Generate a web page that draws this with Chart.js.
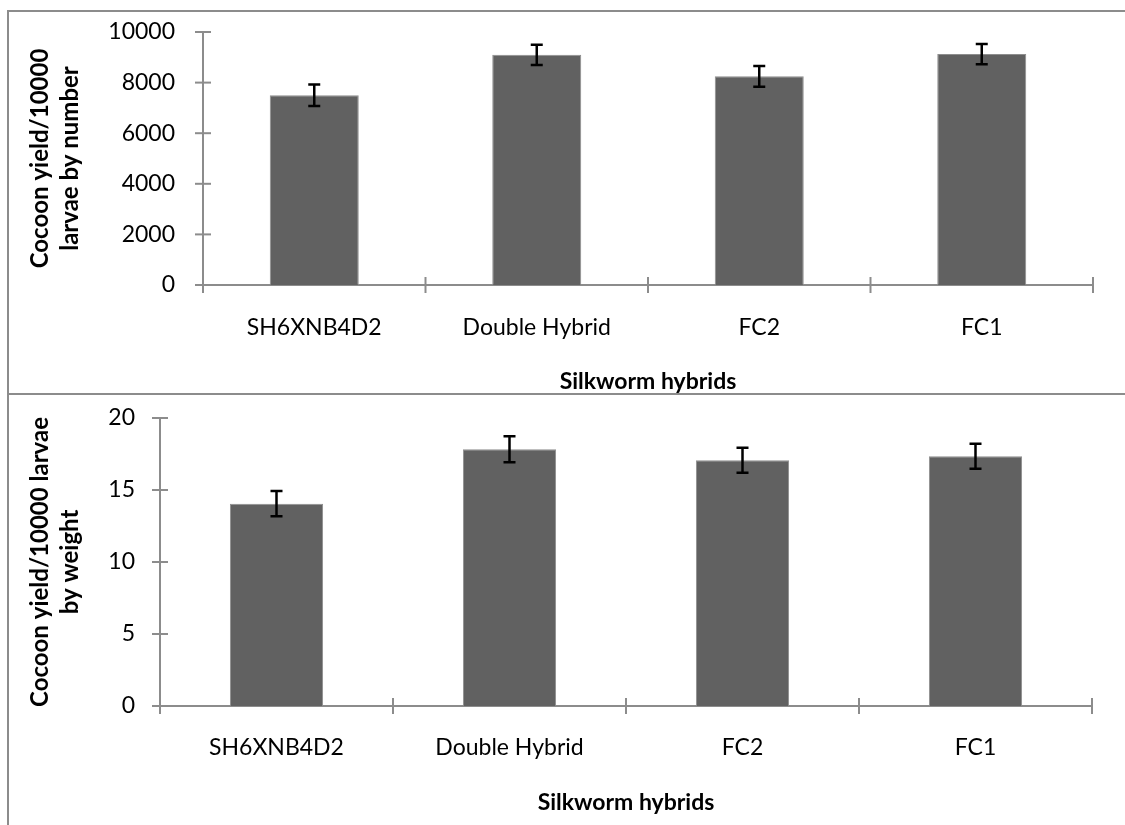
<!DOCTYPE html>
<html>
<head>
<meta charset="utf-8">
<script src="https://cdn.jsdelivr.net/npm/chart.js@4.4.1/dist/chart.umd.min.js"></script>
<style>
    body { margin: 0; background: #fff; width: 1125px; height: 825px; overflow: hidden; position: relative; }
    .frame { position: absolute; border: 2px solid #8c8c8c; }
    canvas { position: absolute; left: 0; }
</style>
</head>
<body>
<div class="frame" style="left:7px; top:10px; width:1200px; height:381px;"></div>
<div class="frame" style="left:7px; top:393px; width:1200px; height:500px; border-top:none;"></div>
<canvas id="numberChart" width="1125" height="393" style="top:0"></canvas>
<canvas id="weightChart" width="1125" height="432" style="top:393px"></canvas>

<script>
// data
const hybrids = ['SH6XNB4D2', 'Double Hybrid', 'FC2', 'FC1'];

const yieldByNumber = [7500, 9100, 8250, 9130];
const yieldByNumberErr = [420, 400, 410, 400];
const numberAxis = [0, 10000, 2000];   // min, max, step

const yieldByWeight = [14.05, 17.83, 17.07, 17.34];
const yieldByWeightErr = [0.88, 0.90, 0.87, 0.87];
const weightAxis = [0, 20, 5];

const axisGray = '#8c8c8c';
const tickFont = { family: 'Lato', size: 23 };

// excel style tick marks that cross the axis line
const crossTicks = {
    id: 'crossTicks',
    afterDraw(chart) {
        const ctx = chart.ctx;
        const x = chart.scales.x;
        const y = chart.scales.y;
        ctx.save();
        ctx.strokeStyle = axisGray;
        ctx.lineWidth = 2;
        y.ticks.forEach((t, i) => {
            const py = y.getPixelForTick(i);
            ctx.beginPath();
            ctx.moveTo(x.left - 8, py);
            ctx.lineTo(x.left + 8, py);
            ctx.stroke();
        });
        for (let i = 0; i <= x.ticks.length; i++) {
            const px = x.getPixelForValue(i - 0.5);
            ctx.beginPath();
            ctx.moveTo(px, y.bottom - 8);
            ctx.lineTo(px, y.bottom + 8);
            ctx.stroke();
        }
        ctx.restore();
    }
};

// error bars
const errorBars = {
    id: 'errorBars',
    afterDatasetsDraw(chart) {
        const ctx = chart.ctx;
        const y = chart.scales.y;
        const ds = chart.data.datasets[0];
        const meta = chart.getDatasetMeta(0);
        ctx.save();
        ctx.strokeStyle = '#000';
        ctx.lineWidth = 2.5;
        meta.data.forEach((bar, i) => {
            const top = y.getPixelForValue(ds.data[i] + ds.errors[i]);
            const bottom = y.getPixelForValue(ds.data[i] - ds.errors[i]);
            ctx.beginPath();
            ctx.moveTo(bar.x, top);
            ctx.lineTo(bar.x, bottom);
            ctx.moveTo(bar.x - 6, top);
            ctx.lineTo(bar.x + 6, top);
            ctx.moveTo(bar.x - 6, bottom);
            ctx.lineTo(bar.x + 6, bottom);
            ctx.stroke();
        });
        ctx.restore();
    }
};

function makeChart(id, values, errors, axis, yTitle, s) {
    const ctx = document.getElementById(id).getContext('2d');
    return new Chart(ctx, {
        type: 'bar',
        data: {
            labels: hybrids,
            datasets: [{
                data: values,
                errors: errors,
                backgroundColor: '#616161',
                borderColor: '#8e8e8e',
                borderWidth: 1,
                barPercentage: 0.4,
                categoryPercentage: 1
            }]
        },
        options: {
            responsive: false,
            animation: false,
            layout: { padding: { top: s.top, right: s.right, left: 0, bottom: 0 } },
            plugins: { legend: { display: false }, tooltip: { enabled: false } },
            scales: {
                x: {
                    grid: { display: false, drawTicks: false },
                    border: { color: axisGray, width: 2 },
                    ticks: { color: '#000', font: tickFont, padding: s.xPad, maxRotation: 0 },
                    title: {
                        display: true,
                        text: 'Silkworm hybrids',
                        color: '#000',
                        font: { family: 'Lato', size: 23, weight: 'bold', lineHeight: 1 },
                        padding: { top: 0, bottom: s.xTitlePad }
                    },
                    afterFit(scale) { scale.height = s.xHeight; }
                },
                y: {
                    min: axis[0],
                    max: axis[1],
                    grid: { display: false, drawTicks: false },
                    border: { color: axisGray, width: 2 },
                    ticks: {
                        stepSize: axis[2], color: '#000', font: tickFont, padding: s.yPad,
                        callback: (v) => String(v)   // no thousands separator
                    },
                    title: {
                        display: true,
                        text: yTitle,
                        color: '#000',
                        font: { family: 'Lato', size: 24, weight: 'bold', lineHeight: 1.25 },
                        padding: { top: 25, bottom: 0 }
                    },
                    afterFit(scale) {
                        scale.width = s.yWidth;
                        // tick padding would otherwise push the plot top down
                        scale.paddingTop = 0;
                        scale.paddingBottom = 0;
                    }
                }
            }
        },
        plugins: [crossTicks, errorBars]
    });
}

document.fonts.load('bold 23px Lato').then(() => document.fonts.load('23px Lato')).then(() => {
    makeChart('numberChart', yieldByNumber, yieldByNumberErr, numberAxis,
        ['Cocoon yield/10000', 'larvae by number'],
        { top: 32, right: 32, xHeight: 108, yWidth: 203, xPad: 29, yPad: 28, xTitlePad: 0 });
    makeChart('weightChart', yieldByWeight, yieldByWeightErr, weightAxis,
        ['Cocoon yield/10000 larvae', 'by weight'],
        { top: 25, right: 33, xHeight: 119, yWidth: 160, xPad: 28, yPad: 25, xTitlePad: 11 });
});
</script>
</body>
</html>
